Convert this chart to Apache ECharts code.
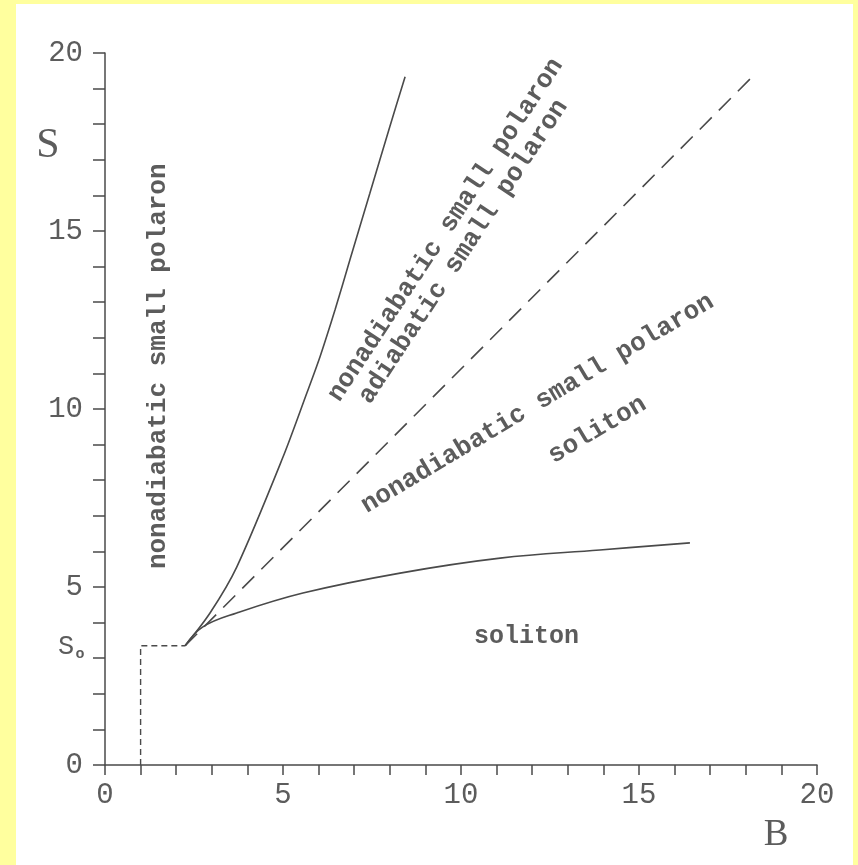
<!DOCTYPE html>
<html>
<head>
<meta charset="utf-8">
<script src="https://cdn.jsdelivr.net/npm/echarts@6/dist/echarts.min.js"></script>
<style>
  html, body { margin: 0; padding: 0; background: #ffff9e; }
  #chart { width: 858px; height: 865px; }
</style>
</head>
<body>
<div id="chart"></div>
<script>
// phase diagram in (B, S) plane
var upperB = [2.25, 2.95, 3.7, 5.0, 5.67, 6.04, 6.46, 6.88, 7.44, 8.0, 8.43];
var upperS = [3.35, 4.27, 5.56, 8.65, 10.45, 11.47, 12.78, 14.19, 16.06, 17.93, 19.33];

var lowerB = [2.25, 2.75, 3.7, 5.56, 8.29, 11.1, 13.9, 16.43];
var lowerS = [3.35, 3.88, 4.27, 4.83, 5.39, 5.81, 6.04, 6.24];

var borderB = [2.25, 18.2];
var borderS = [3.35, 19.35];

var cornerB = [1, 1, 2.25];
var cornerS = [0, 3.35, 3.35];

var So = 3.35;

// region labels: text, B, S, angle (deg)
var regionText = ["nonadiabatic small polaron", "nonadiabatic small polaron", "adiabatic small polaron",
                  "nonadiabatic small polaron", "soliton", "soliton"];
var regionB = [1.49, 9.57, 10.07, 12.15, 13.83, 11.84];
var regionS = [11.2, 15.03, 14.42, 10.15, 9.41, 3.6];
var regionAngle = [90, 56.5, 56.5, 30.8, 30.8, 0];

function zip(xs, ys) {
    return xs.map(function (x, i) { return [x, ys[i]]; });
}

var mono = "'Liberation Mono', 'Courier New', monospace";
var serif = "'Liberation Serif', 'Times New Roman', serif";
var ink = '#4a4a4a';
var textInk = '#5c5c5c';

var chart = echarts.init(document.getElementById('chart'));

chart.setOption({
    backgroundColor: '#ffff9e',
    animation: false,
    grid: { left: 105, right: 41, top: 53, bottom: 100 },
    xAxis: {
        type: 'value', min: 0, max: 20, interval: 5,
        axisLine: { lineStyle: { color: ink, width: 1.5 } },
        axisTick: { length: 10, lineStyle: { color: ink, width: 1.5 } },
        minorTick: { show: true, splitNumber: 5, length: 10, lineStyle: { color: ink, width: 1.5 } },
        splitLine: { show: false },
        axisLabel: { color: textInk, fontFamily: mono, fontSize: 29, margin: 16 }
    },
    yAxis: {
        type: 'value', min: 0, max: 20, interval: 5,
        axisLine: { lineStyle: { color: ink, width: 1.5 } },
        axisTick: { length: 12, lineStyle: { color: ink, width: 1.5 } },
        minorTick: { show: true, splitNumber: 5, length: 12, lineStyle: { color: ink, width: 1.5 } },
        splitLine: { show: false },
        axisLabel: { color: textInk, fontFamily: mono, fontSize: 29, margin: 22 }
    },
    series: [
        {
            type: 'line', data: zip(upperB, upperS), smooth: 0.3, symbol: 'none',
            lineStyle: { color: ink, width: 1.6 }
        },
        {
            type: 'line', data: zip(lowerB, lowerS), smooth: 0.4, symbol: 'none',
            lineStyle: { color: ink, width: 1.6 }
        },
        {
            type: 'line', data: zip(borderB, borderS), symbol: 'none',
            lineStyle: { color: ink, width: 1.6, type: [17, 10] }
        },
        {
            type: 'line', data: zip(cornerB, cornerS), symbol: 'none',
            lineStyle: { color: ink, width: 1.4, type: [6, 4] }
        }
    ]
});

// white paper, axis names and region labels
var graphics = [
    { type: 'rect', z: -10, shape: { x: 16, y: 4, width: 837, height: 861 }, style: { fill: '#ffffff' } }
];

regionText.forEach(function (t, i) {
    var p = chart.convertToPixel({ gridIndex: 0 }, [regionB[i], regionS[i]]);
    graphics.push({
        type: 'text', x: p[0], y: p[1], rotation: regionAngle[i] * Math.PI / 180,
        style: {
            text: t, fill: textInk, font: (i === 5 ? 'bold 25px ' : 'bold 26px ') + mono,
            align: 'center', verticalAlign: 'middle'
        }
    });
});

var pS = chart.convertToPixel({ gridIndex: 0 }, [0, 17.4]);
graphics.push({
    type: 'text', x: pS[0] - 57, y: pS[1],
    style: { text: 'S', fill: textInk, font: '42px ' + serif, align: 'center', verticalAlign: 'middle' }
});
var pB = chart.convertToPixel({ gridIndex: 0 }, [18.85, 0]);
graphics.push({
    type: 'text', x: pB[0], y: pB[1] + 70,
    style: { text: 'B', fill: textInk, font: '37px ' + serif, align: 'center', verticalAlign: 'middle' }
});
var pSo = chart.convertToPixel({ gridIndex: 0 }, [0, So]);
graphics.push({
    type: 'text', x: pSo[0] - 39, y: pSo[1] + 1,
    style: { text: 'S', fill: textInk, font: '27px ' + mono, align: 'center', verticalAlign: 'middle' }
});
graphics.push({
    type: 'text', x: pSo[0] - 25, y: pSo[1] + 8,
    style: { text: 'o', fill: textInk, font: 'bold 15px ' + mono, align: 'center', verticalAlign: 'middle' }
});

chart.setOption({ graphic: graphics });
</script>
</body>
</html>
